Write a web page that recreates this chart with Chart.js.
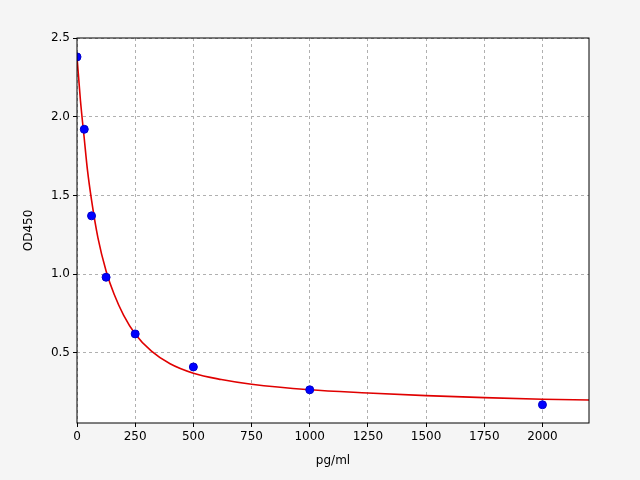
<!DOCTYPE html>
<html><head><meta charset="utf-8">
<script src="https://cdn.jsdelivr.net/npm/chart.js@4"></script>
<style>html,body{margin:0;background:#f5f5f5}#w{width:640px;height:480px}</style>
</head><body><div id="w"><canvas id="c"></canvas></div>
<script>
const pointX=[0,31.25,62.5,125,250,500,1000,2000];
const pointY=[2.38,1.92,1.37,0.98,0.62,0.41,0.265,0.17];
const curveX=[0,15,31.25,45,62.5,90,125,160,200,250,320,400,500,620,750,1000,1250,1500,1750,2000,2200];
const curveY=[2.38,2.1,1.86,1.66,1.47,1.23,1.02,0.87,0.74,0.62,0.51,0.43,0.37,0.33,0.30,0.265,0.245,0.228,0.215,0.205,0.2];
const xTicks=[0,250,500,750,1000,1250,1500,1750,2000];
const yTicks=[0.5,1.0,1.5,2.0,2.5];
const bg={id:'bg',beforeDraw(ch){const a=ch.chartArea,x=ch.ctx;x.save();x.fillStyle='#fff';x.fillRect(a.left,a.top,a.right-a.left,a.bottom-a.top);x.restore();},
afterDraw(ch){const a=ch.chartArea,x=ch.ctx;x.save();x.strokeStyle='#000';x.lineWidth=1;x.strokeRect(a.left,a.top,a.right-a.left,a.bottom-a.top);x.restore();}};
const grid={color:'#b0b0b0',drawTicks:true,tickLength:4,tickColor:'#000'};
new Chart(document.getElementById('c'),{type:'scatter',
data:{datasets:[
{data:pointX.map((x,i)=>({x,y:pointY[i]})),backgroundColor:'#0000ff',borderColor:'#0000cc',pointRadius:4,order:0},
{type:'line',data:curveX.map((x,i)=>({x,y:curveY[i]})),borderColor:'#e00000',borderWidth:1.6,pointRadius:0,cubicInterpolationMode:'monotone',order:1}
]},
options:{responsive:true,maintainAspectRatio:false,animation:false,
layout:{padding:{top:38,right:51,left:22,bottom:12}},
plugins:{legend:{display:false},tooltip:{enabled:false}},
scales:{
x:{type:'linear',min:0,max:2200,afterBuildTicks(s){s.ticks=xTicks.map(v=>({value:v}));},
grid,border:{display:false,dash:[3,3]},ticks:{color:'#000',font:{size:12,family:'DejaVu Sans'},maxRotation:0,callback:v=>String(v)},
title:{display:true,text:'pg/ml',color:'#000',font:{size:12,family:'DejaVu Sans'},padding:0},
afterFit(s){s.height=45;}},
y:{min:0.054,max:2.5,afterBuildTicks(s){s.ticks=yTicks.map(v=>({value:v}));},
grid,border:{display:false,dash:[3,3]},ticks:{color:'#000',font:{size:12,family:'DejaVu Sans'},callback:v=>v.toFixed(1)},
title:{display:true,text:'OD450',color:'#000',font:{size:12,family:'DejaVu Sans'},padding:0},
afterFit(s){s.width=55;}}
}},plugins:[bg]});
</script></body></html>
